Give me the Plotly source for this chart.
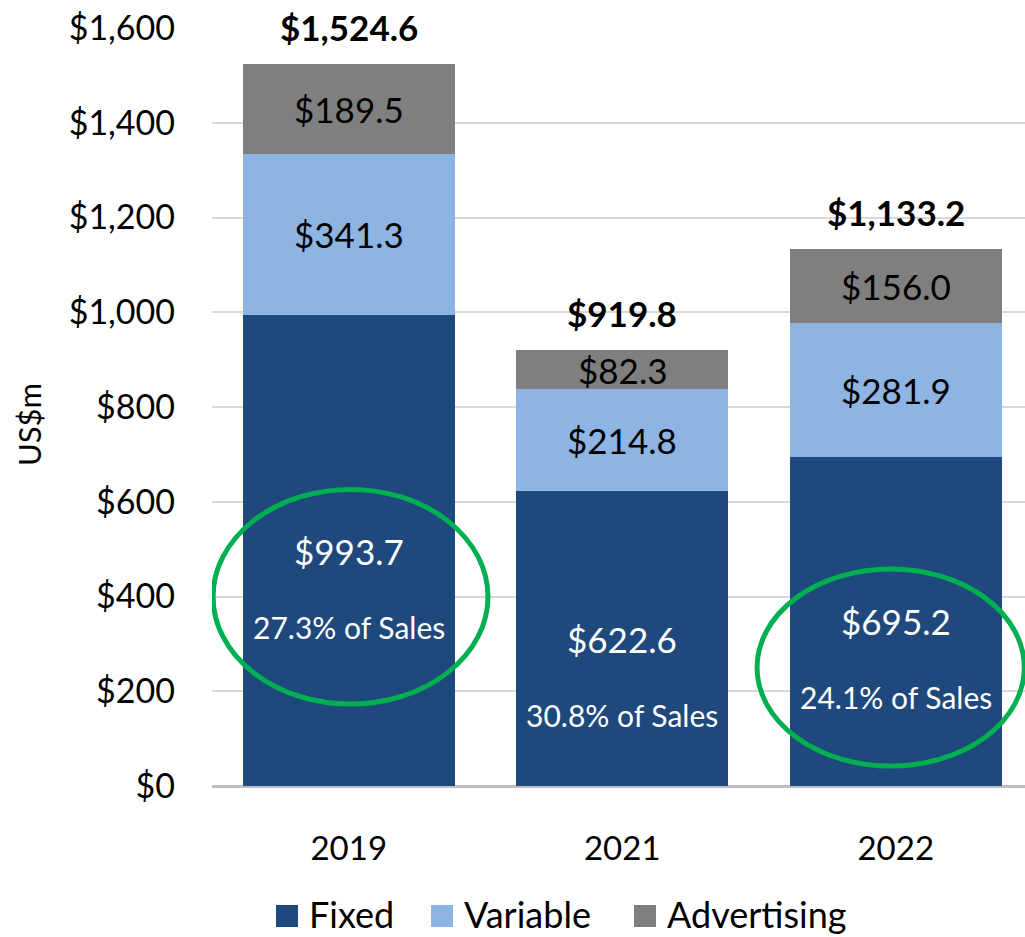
import plotly.graph_objects as go

years = ["2019", "2021", "2022"]
fixed = [993.7, 622.6, 695.2]
variable = [341.3, 214.8, 281.9]
advertising = [189.5, 82.3, 156.0]
totals = [1524.6, 919.8, 1133.2]
pct_of_sales = ["27.3% of Sales", "30.8% of Sales", "24.1% of Sales"]
series_names = ["Fixed", "Variable", "Advertising"]
y_ticks = [0, 200, 400, 600, 800, 1000, 1200, 1400, 1600]
y_tick_text = ["$0", "$200", "$400", "$600", "$800", "$1,000", "$1,200", "$1,400", "$1,600"]

C_FIXED = "#1F497D"
C_VAR = "#8EB4E3"
C_ADV = "#7F7F7F"
GREEN = "#00B050"
FONT = "Lato, 'Open Sans', sans-serif"
colors = [C_FIXED, C_VAR, C_ADV]

# plot area geometry in pixels (used for paper-space placement of legend/title)
W, H = 1025, 937
ML, MR, MT, MB = 212, 0, 28, 151
PW, PH = W - ML - MR, H - MT - MB


def px_x(px):
    return (px - ML) / PW


def px_y(py):
    return (H - MB - py) / PH


x = list(range(len(years)))

fig = go.Figure()
for name, vals, col in zip(series_names, [fixed, variable, advertising], colors):
    fig.add_trace(go.Bar(x=x, y=vals, name=name, marker=dict(color=col, line=dict(width=0)),
                         width=0.775, showlegend=False))

ann = []
for i in range(len(years)):
    # segment value labels at the middle of each stacked piece
    f_mid = fixed[i] / 2
    v_mid = fixed[i] + variable[i] / 2
    a_mid = fixed[i] + variable[i] + advertising[i] / 2
    ann.append(dict(x=x[i], y=f_mid, text=f"${fixed[i]:,.1f}", showarrow=False,
                    font=dict(size=35, color="white", family=FONT)))
    ann.append(dict(x=x[i], y=f_mid, text=pct_of_sales[i], showarrow=False, yshift=-76,
                    font=dict(size=30, color="white", family=FONT)))
    ann.append(dict(x=x[i], y=v_mid, text=f"${variable[i]:,.1f}", showarrow=False,
                    font=dict(size=35, color="black", family=FONT)))
    ann.append(dict(x=x[i], y=a_mid, text=f"${advertising[i]:,.1f}", showarrow=False,
                    font=dict(size=35, color="black", family=FONT)))
    ann.append(dict(x=x[i], y=totals[i], text=f"<b>${totals[i]:,.1f}</b>", showarrow=False,
                    yshift=37, font=dict(size=35, color="black", family=FONT)))

ann.append(dict(xref="paper", yref="paper", x=px_x(29), y=px_y(425), xanchor="center",
                yanchor="middle", text="US$m", textangle=-90,
                showarrow=False, font=dict(size=31, color="black", family=FONT)))

shapes = [
    dict(type="circle", xref="x", yref="y", x0=-0.496, x1=0.509, y0=173, y1=626,
         line=dict(color=GREEN, width=5), layer="above"),
    dict(type="circle", xref="x", yref="y", x0=1.493, x1=2.47, y0=42, y1=458,
         line=dict(color=GREEN, width=5), layer="above"),
]

# legend row under the axis: colour squares followed by series names
legend_swatch_left = [276, 431, 634]
legend_y = 914
for name, col, sx in zip(series_names, colors, legend_swatch_left):
    shapes.append(dict(type="rect", xref="paper", yref="paper",
                       x0=px_x(sx), x1=px_x(sx + 22), y0=px_y(legend_y + 13), y1=px_y(legend_y - 9),
                       fillcolor=col, line=dict(width=0)))
    ann.append(dict(xref="paper", yref="paper", x=px_x(sx + 31), y=px_y(legend_y),
                    xanchor="left", yanchor="middle", text=name, showarrow=False,
                    font=dict(size=36, color="black", family=FONT)))

fig.update_layout(
    barmode="stack",
    width=W, height=H,
    margin=dict(l=ML, r=MR, t=MT, b=MB, autoexpand=False),
    paper_bgcolor="white", plot_bgcolor="white",
    font=dict(family=FONT, color="black"),
    annotations=ann,
    shapes=shapes,
    showlegend=False,
    xaxis=dict(tickmode="array", tickvals=x, ticktext=years, range=[-0.5, 2.4726],
               showgrid=False, zeroline=False, showline=False,
               tickfont=dict(size=33, family=FONT), ticks="", ticklabelstandoff=40),
    yaxis=dict(range=[0, 1600], tickvals=y_ticks, ticktext=y_tick_text,
               showgrid=True, gridcolor="#D9D9D9", gridwidth=2,
               zeroline=True, zerolinecolor="#BFBFBF", zerolinewidth=3,
               showline=False, ticks="", ticklabelstandoff=36,
               tickfont=dict(size=34, family=FONT)),
)

fig.write_html("out.html")
